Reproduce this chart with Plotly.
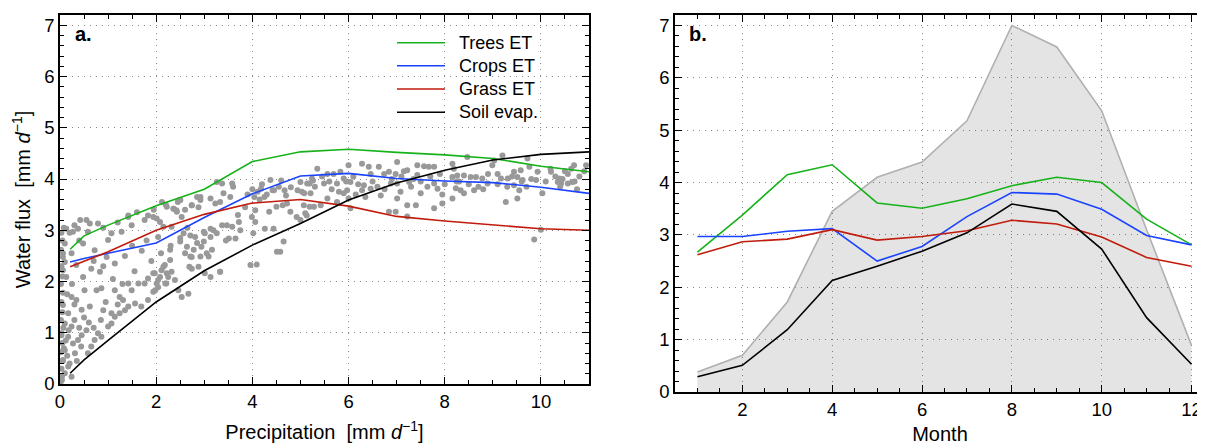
import plotly.graph_objects as go

# ---------------- Panel a data ----------------
line_x = [0.21, 0.5, 1, 2, 3, 4, 5, 6, 7, 8, 9, 10, 11]
trees_a = [2.63, 2.89, 3.10, 3.48, 3.80, 4.34, 4.53, 4.58, 4.52, 4.47, 4.40, 4.25, 4.14]
crops_a = [2.38, 2.45, 2.55, 2.75, 3.25, 3.71, 4.06, 4.11, 4.01, 3.96, 3.93, 3.84, 3.72]
grass_a = [2.29, 2.40, 2.58, 3.00, 3.31, 3.53, 3.60, 3.47, 3.27, 3.18, 3.10, 3.03, 3.00]
soil_a = [0.21, 0.47, 0.85, 1.60, 2.21, 2.71, 3.13, 3.59, 3.92, 4.17, 4.37, 4.48, 4.53]

scatter_precip = [
    0.02, 0.04, 0.03, 0.06, 0.02, 0.05, 0.03, 0.07, 0.02, 0.05, 0.03, 0.06, 0.02, 0.05, 0.03, 0.06, 0.02, 0.05, 0.03, 0.08,
    0.10, 0.17, 0.06, 0.10, 0.27, 0.17, 0.03, 0.24, 0.10, 0.17, 0.06, 0.24, 0.13, 0.06, 0.10, 0.06, 0.10, 0.13, 0.27, 0.375, 0.24, 0.04, 0.31,
    0.375, 0.44, 0.58, 0.65, 0.72, 0.79, 0.86, 1.0, 1.07, 1.14, 1.24, 1.35, 1.42, 1.56, 1.69, 1.83,
    0.34, 0.51, 0.62, 0.76, 0.86, 0.90, 1.07, 1.14, 1.24, 1.31, 1.42, 1.49, 1.63, 1.76, 1.83, 1.97, 2.04, 2.11, 2.18, 2.25, 2.32, 2.21, 2.04, 1.94, 2.39, 2.46, 2.53, 2.67, 2.60, 2.74, 2.88, 3.01, 2.94, 2.81, 3.01, 2.88, 2.74, 2.42, 2.53, 2.32, 2.04, 1.83, 1.76, 1.49, 1.42, 1.28, 1.07, 1.0, 0.79, 0.62, 0.58, 0.48, 0.72, 0.97, 1.14, 0.83, 0.65, 0.48, 0.34, 0.24,
    0.15, 0.20, 0.35, 0.45, 0.55, 0.30, 0.50, 0.40, 0.12, 0.60, 0.70, 0.85, 0.95, 1.20, 1.30, 1.10, 0.90, 0.70, 0.40, 0.30, 0.20, 0.55, 0.90, 1.20, 1.60, 1.95, 2.20, 1.70, 1.55, 1.90, 2.10, 2.30, 2.50, 2.65, 2.45, 2.60, 1.35, 1.50, 1.80, 0.25, 0.15, 0.30, 0.45, 0.18, 0.08,
    3.37, 3.58, 3.40, 3.33, 3.54, 3.23, 3.13, 2.92, 2.85, 2.74, 2.50, 2.36, 2.43, 2.22, 2.12, 2.08, 2.15, 1.94, 2.57, 2.71, 2.99, 3.13, 3.19, 3.26, 3.37, 3.47, 3.58, 3.72, 3.75, 3.65, 3.51, 3.13, 2.99, 2.85, 2.64, 2.50, 2.78, 2.92, 2.71, 3.09, 3.16, 3.33, 3.13, 2.74, 2.29, 2.29, 2.15, 2.22, 2.08, 2.01, 2.19, 1.94, 1.98,
    4.11, 4.18, 4.04, 4.25, 4.42, 4.60, 4.67, 4.70, 4.80, 4.94, 5.08, 5.19, 5.26, 4.72, 4.79, 4.63, 4.50, 4.35, 4.06, 3.99, 4.06, 4.26, 4.44, 4.02, 4.65, 4.09, 4.51, 4.58, 5.0, 5.13, 4.92, 5.19,
    5.0, 5.14, 5.24, 5.03, 5.21, 5.07, 5.10, 5.28, 5.35, 5.49, 5.56, 5.69, 5.76, 5.83, 5.90, 6.0, 6.04, 5.97, 5.90, 5.42, 5.56, 5.76, 6.0, 6.04,
    6.28, 6.42, 6.46, 6.63, 6.32, 6.28, 6.46, 6.35, 6.67, 6.74, 6.84, 7.01, 6.98, 7.01, 6.88, 7.08, 7.01, 6.98, 7.22, 7.26, 7.43, 7.57, 7.67, 7.78, 7.43, 7.50, 7.64, 7.22, 7.40, 7.78, 7.22, 6.84, 7.78, 7.85, 7.95,
    8.16, 8.19, 8.16, 8.26, 8.40, 8.47, 8.54, 8.23, 8.33, 8.40, 8.16, 8.61, 8.65, 8.78, 8.89, 8.99, 9.03, 9.20, 9.10, 9.17, 9.27, 9.31, 9.44, 9.51, 9.58, 9.62, 9.55, 9.51, 9.44, 9.72, 9.76, 9.93, 10.03, 9.90,
    10.21, 10.38, 10.35, 10.42, 10.56, 10.63, 10.69, 10.56, 10.65, 10.94, 10.0, 9.86,
    0.42, 1.42, 2.01, 2.36, 2.5, 2.92, 3.26, 3.6, 3.9, 4.0, 4.2, 4.375, 4.45, 4.55, 3.96, 3.33, 2.69,
    5.30, 5.60, 5.80, 6.10, 6.20, 6.50, 6.60, 6.90, 7.10, 7.30, 7.50, 7.70, 7.90, 8.00, 8.30, 8.50, 8.70, 8.90, 9.10, 9.30, 9.60, 9.80, 10.10, 10.30, 10.50, 10.80, 10.90, 10.70, 10.40, 10.20,
    5.45, 5.65, 5.95, 6.15, 6.75, 7.15, 7.35, 7.95, 8.25, 8.80, 9.40, 9.70, 10.45, 10.75, 3.70, 3.85, 4.15, 4.30, 3.45, 3.05,
]
scatter_flux = [
    0.05, 0.15, 0.30, 0.45, 0.62, 0.80, 0.95, 1.10, 1.25, 1.40, 1.60, 1.78, 1.95, 2.10, 2.30, 2.48, 2.62, 2.80, 2.95, 3.05,
    0.21, 0.34, 0.47, 0.66, 0.79, 0.92, 0.99, 1.12, 1.18, 1.38, 1.54, 1.70, 2.09, 2.22, 2.38, 2.55, 2.74, 3.03, 2.97, 3.03, 0.14, 0.08, 0.60,
    0.86, 0.73, 0.60, 0.73, 0.86, 0.99, 0.92, 1.12, 1.18, 1.31, 1.38, 1.44, 1.51, 1.57, 1.51, 1.64,
    1.64, 1.83, 1.51, 1.83, 1.87, 1.44, 1.38, 1.83, 1.70, 1.64, 1.96, 1.83, 1.96, 1.96, 2.06, 2.16, 2.03, 2.22, 2.32, 2.09, 2.19, 1.96, 1.89, 1.80, 2.03, 1.83, 1.70, 1.76, 2.55, 2.48, 2.29, 2.16, 2.68, 2.87, 2.94, 3.45, 3.49, 3.39, 3.26, 3.07, 2.87, 3.29, 3.20, 3.10, 3.26, 2.97, 2.94, 2.81, 3.13, 3.13, 2.97, 2.74, 2.61, 2.48, 2.35, 2.19, 2.25, 2.09, 2.32, 2.55,
    0.55, 0.40, 0.45, 0.95, 1.05, 1.25, 1.30, 1.10, 0.85, 1.20, 1.10, 1.25, 1.60, 1.55, 1.95, 2.05, 2.30, 2.40, 2.80, 3.10, 2.95, 3.20, 3.05, 3.15, 3.35, 3.40, 3.50, 2.60, 2.20, 2.40, 2.55, 2.70, 2.85, 3.05, 3.55, 3.40, 2.50, 2.70, 2.80, 1.95, 1.75, 1.55, 1.45, 1.05, 0.70,
    3.91, 3.91, 3.72, 3.55, 3.65, 3.52, 3.62, 3.59, 3.65, 3.49, 3.59, 3.42, 3.36, 3.46, 3.55, 3.16, 3.07, 3.26, 2.94, 2.90, 2.97, 3.03, 3.00, 2.94, 3.10, 3.10, 3.07, 3.16, 3.00, 2.84, 2.84, 2.87, 2.78, 2.75, 2.68, 2.78, 2.62, 2.49, 2.49, 2.49, 2.62, 2.19, 2.09, 2.25, 2.62, 2.42, 2.29, 2.16, 2.09, 1.96, 1.96, 2.16, 1.83,
    3.75, 3.81, 3.65, 3.65, 3.78, 3.97, 3.78, 3.68, 3.84, 3.78, 3.72, 3.91, 3.97, 3.52, 3.36, 3.49, 3.46, 3.36, 3.39, 3.26, 3.16, 3.03, 3.03, 2.94, 2.78, 2.33, 2.58, 2.58, 3.20, 3.29, 3.26, 3.46,
    3.94, 3.91, 4.01, 3.75, 3.72, 3.49, 3.33, 3.46, 4.20, 3.91, 4.10, 4.10, 3.91, 4.14, 4.01, 4.27, 3.94, 3.78, 3.72, 3.49, 3.62, 3.55, 3.62, 3.43,
    4.30, 4.24, 4.10, 4.24, 3.88, 3.78, 3.81, 3.65, 3.68, 4.10, 4.14, 4.33, 4.10, 3.91, 3.91, 3.75, 3.62, 3.36, 4.17, 3.94, 4.27, 4.25, 4.24, 4.24, 4.08, 3.72, 3.85, 3.49, 3.49, 3.43, 3.27, 3.36, 3.91, 3.81, 3.52,
    4.30, 4.20, 4.04, 4.07, 4.07, 4.43, 4.04, 3.82, 3.78, 3.72, 3.62, 3.78, 4.04, 4.01, 3.91, 4.27, 4.36, 4.46, 4.10, 4.01, 3.55, 4.01, 4.14, 4.04, 4.17, 3.98, 3.78, 3.62, 3.88, 4.40, 4.24, 4.14, 3.72, 3.98,
    4.14, 4.01, 3.94, 3.91, 4.10, 4.20, 4.27, 3.91, 3.94, 4.27, 3.01, 2.82,
    3.20, 3.29, 3.23, 3.42, 3.59, 3.65, 3.94, 3.85, 3.70, 3.80, 3.90, 3.98, 3.78, 3.85, 2.32, 2.19, 2.29,
    3.85, 3.95, 3.75, 4.05, 3.90, 3.95, 3.85, 4.00, 4.05, 3.85, 3.95, 4.05, 4.10, 3.90, 3.95, 3.90, 3.85, 4.10, 3.90, 3.85, 3.95, 4.00, 3.95, 4.05, 4.15, 4.05, 4.15, 3.95, 3.85, 4.20,
    4.05, 3.80, 3.95, 3.70, 3.80, 4.15, 4.00, 3.70, 3.95, 3.80, 4.05, 3.85, 4.00, 3.80, 3.30, 3.45, 3.60, 3.70, 2.80, 2.55,
]

# ---------------- Panel b data ----------------
months = [1, 2, 3, 4, 5, 6, 7, 8, 9, 10, 11, 12]
precip_b = [0.38, 0.70, 1.72, 3.45, 4.10, 4.39, 5.18, 7.00, 6.59, 5.37, 3.10, 0.89]
trees_b = [2.67, 3.38, 4.15, 4.34, 3.61, 3.51, 3.69, 3.94, 4.10, 4.00, 3.30, 2.81]
crops_b = [2.97, 2.97, 3.07, 3.12, 2.50, 2.78, 3.35, 3.81, 3.78, 3.49, 2.99, 2.81]
grass_b = [2.62, 2.87, 2.92, 3.10, 2.90, 2.97, 3.08, 3.28, 3.21, 2.96, 2.57, 2.40]
soil_b = [0.29, 0.51, 1.19, 2.13, 2.40, 2.69, 3.04, 3.59, 3.45, 2.73, 1.42, 0.53]

series_names = ["Trees ET", "Crops ET", "Grass ET", "Soil evap."]
series_colors = ["#17b21a", "#1a43ff", "#c11b0c", "#000000"]

FONT = "Liberation Sans, Arial, Helvetica, sans-serif"
# the page body has an 8px margin, so the figure is placed at (8, 8) in the window
OFF = 8
W, H = 1205 - OFF, 445 - OFF


def px(x):
    return (x - OFF) / W


def py(y):
    return 1 - (y - OFF) / H


fig = go.Figure()

fig.add_trace(go.Scatter(
    x=scatter_precip, y=scatter_flux, mode="markers",
    marker=dict(color="#999999", size=6, line=dict(width=0)),
    showlegend=False, xaxis="x", yaxis="y"))

for name, color, ys in zip(series_names, series_colors, [trees_a, crops_a, grass_a, soil_a]):
    fig.add_trace(go.Scatter(x=line_x, y=ys, mode="lines", name=name,
                             line=dict(color=color, width=1.6), showlegend=False,
                             xaxis="x", yaxis="y"))

fig.add_trace(go.Scatter(x=months, y=precip_b, mode="lines", fill="tozeroy",
                         fillcolor="rgba(0,0,0,0.105)", line=dict(color="#b0b0b0", width=1.6),
                         showlegend=False, xaxis="x2", yaxis="y2"))
for name, color, ys in zip(series_names, series_colors, [trees_b, crops_b, grass_b, soil_b]):
    fig.add_trace(go.Scatter(x=months, y=ys, mode="lines", name=name,
                             line=dict(color=color, width=1.6), showlegend=False,
                             xaxis="x2", yaxis="y2"))


def ax_common(mirror="ticks"):
    return dict(
        showline=True, linecolor="black", linewidth=1.5, mirror=mirror,
        ticks="inside", ticklen=7, tickwidth=1.3, tickcolor="black",
        showgrid=True, gridcolor="#8a8a8a", griddash="1px,5px", gridwidth=1,
        zeroline=False, automargin=False,
        tickfont=dict(family=FONT, size=18.5, color="black"),
    )


# custom legend (line samples + real text) in panel a
legend_shapes = []
legend_annots = []
leg_y = [42.7, 65.7, 89.0, 112.3]
for name, color, yy in zip(series_names, series_colors, leg_y):
    legend_shapes.append(dict(type="line", xref="paper", yref="paper",
                              x0=px(397), x1=px(445), y0=py(yy), y1=py(yy),
                              line=dict(color=color, width=1.6)))
    legend_annots.append(dict(text=name, xref="paper", yref="paper", x=px(457), y=py(yy),
                              xanchor="left", yanchor="middle", showarrow=False,
                              font=dict(family=FONT, size=18, color="black")))

TITLE_SIZE = 20

fig.update_layout(
    width=W, height=H,
    margin=dict(l=0, r=0, t=0, b=0),
    paper_bgcolor="white", plot_bgcolor="white",
    font=dict(family=FONT, color="black"),
    showlegend=False,
    xaxis=dict(**ax_common(), domain=[px(60), px(589)], range=[0, 11], dtick=2, tick0=0,
               minor=dict(ticks="inside", dtick=0.5, ticklen=4, tickcolor="black", showgrid=False),
               title=dict(text="Precipitation  [mm <i>d</i><sup>−1</sup>]", font=dict(size=TITLE_SIZE), standoff=14),
               anchor="y"),
    yaxis=dict(**ax_common(), domain=[py(384), py(15)], range=[0, 7.2], dtick=1, tick0=0,
               minor=dict(ticks="inside", dtick=0.2, ticklen=4, tickcolor="black", showgrid=False),
               title=dict(text="Water flux  [mm <i>d</i><sup>−1</sup>]", font=dict(size=TITLE_SIZE), standoff=8),
               anchor="x"),
    xaxis2=dict(**ax_common(), domain=[px(675), 1.0], range=[0.5, 12.3], dtick=2, tick0=0,
                minor=dict(ticks="inside", dtick=0.5, tick0=0, ticklen=4, tickcolor="black", showgrid=False),
                title=dict(text="Month", font=dict(size=TITLE_SIZE), standoff=12),
                anchor="y2"),
    yaxis2=dict(**ax_common(mirror=False), domain=[py(392), py(15)], range=[0, 7.2], dtick=1, tick0=0,
                minor=dict(ticks="inside", dtick=0.2, ticklen=4, tickcolor="black", showgrid=False),
                anchor="x2"),
    shapes=legend_shapes,
    annotations=[
        dict(text="<b>a.</b>", xref="x domain", yref="y domain", x=0.025, y=0.985,
             xanchor="left", yanchor="top", showarrow=False, font=dict(size=20, family=FONT)),
        dict(text="<b>b.</b>", xref="x2 domain", yref="y2 domain", x=0.022, y=0.985,
             xanchor="left", yanchor="top", showarrow=False, font=dict(size=20, family=FONT)),
    ] + legend_annots,
)

fig.write_html("out.html")
